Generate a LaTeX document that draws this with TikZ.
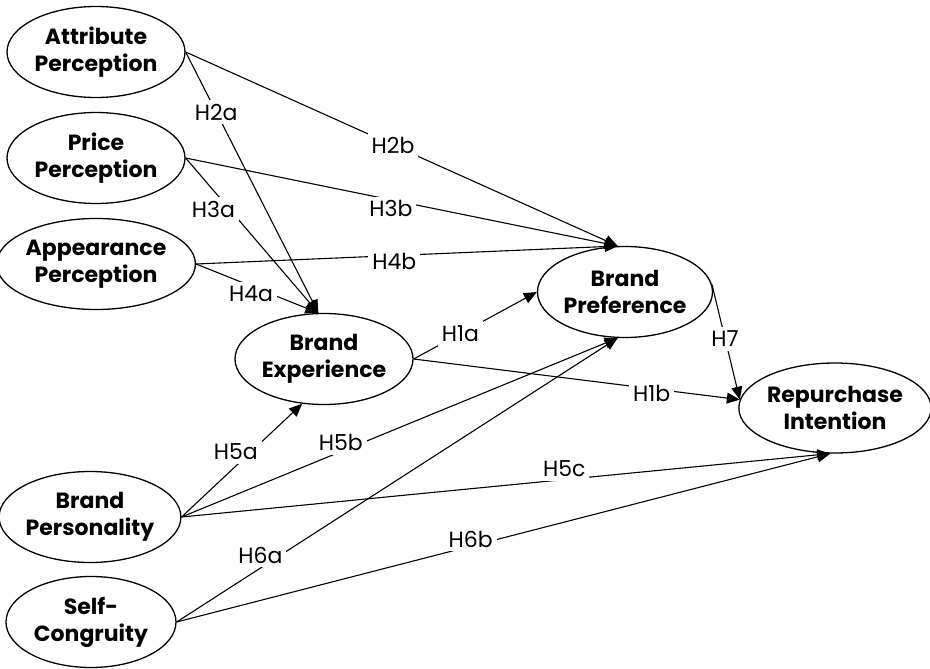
\documentclass[tikz,border=0pt]{standalone}
\usepackage{fontspec}
\setmainfont{Poppins}
\usepackage{tikz}
\usetikzlibrary{arrows.meta}
\usetikzlibrary{shapes.geometric}
\newlength{\semunit}
\setlength{\semunit}{1pt}
\tikzstyle{nodestyle}=[draw, line width=1.3pt, ellipse, inner sep=0pt, align=center, font=\fontsize{22}{27}\selectfont\bfseries]
\tikzstyle{edgestyle}=[draw, line width=1.1pt, -{Triangle[length=13pt,width=11pt]}]
\tikzstyle{construct}=[nodestyle, minimum width=178\semunit, minimum height=91\semunit]
\tikzstyle{hyp}=[fill=white, inner xsep=4pt, inner ysep=4pt, font=\fontsize{22}{24}\selectfont]
\newcommand{\latent}[4][]{\node [construct, #1] (#2) at (#3) {#4};}

\begin{document}
\begin{tikzpicture}[x=1pt, y=-1pt]
\fill [white] (0,0) rectangle (930,669);
\useasboundingbox (0,0) rectangle (930,669);
\latent{AP}{96,52}{Attribute\\Perception}
\latent{PP}{96,158}{Price\\Perception}
\latent{ApP}{96,264}{Appearance\\Perception}
\latent{BE}{324,359}{Brand\\Experience}
\latent[minimum width=175\semunit]{BPr}{625,292}{Brand\\Preference}
\latent[minimum width=174\semunit, minimum height=90\semunit]{RI}{835,408}{Repurchase\\Intention}
\latent[minimum width=170\semunit]{BPe}{90,517}{Brand\\Personality}
\latent[minimum width=170\semunit]{SC}{91,622}{Self-\\Congruity}
% paths to brand experience
\draw [edgestyle] (AP.east) -- (BE.97) node [hyp, pos=0.23] (h2a) {H2a};
\draw [edgestyle] (PP.east) -- (BE.97) node [hyp, pos=0.33, xshift=-16pt] (h3a) {H3a};
\draw [edgestyle] (ApP.east) -- (BE.97) node [hyp, pos=0.45, yshift=-8pt] (h4a) {H4a};
\draw [edgestyle] (BPe.east) -- (BE.244) node [hyp, pos=0.45, yshift=14pt] (h5a) {H5a};
% paths to brand preference
\draw [edgestyle] (AP.east) -- (BPr.99) node [hyp, pos=0.48] (h2b) {H2b};
\draw [edgestyle] (PP.east) -- (BPr.99) node [hyp, pos=0.475, yshift=-9pt] (h3b) {H3b};
\draw [edgestyle] (ApP.east) -- (BPr.99) node [hyp, pos=0.47, yshift=-6pt] (h4b) {H4b};
\draw [edgestyle] (BE.east) -- (BPr.west) node [hyp, pos=0.38] (h1a) {H1a};
\draw [edgestyle] (BPe.east) -- (BPr.261) node [hyp, pos=0.365, yshift=9pt] (h5b) {H5b};
\draw [edgestyle] (SC.east) -- (BPr.261) node [hyp, pos=0.19, yshift=13pt] (h6a) {H6a};
% paths to repurchase intention
\draw [edgestyle] (BE.east) -- (RI.175) node [hyp, pos=0.73, yshift=-5pt] (h1b) {H1b};
\draw [edgestyle] (BPr.5) -- (RI.175) node [hyp, pos=0.47] (h7) {H7};
\draw [edgestyle] (BPe.east) -- (RI.264) node [hyp, pos=0.59, yshift=11pt] (h5c) {H5c};
\draw [edgestyle] (SC.east) -- (RI.264) node [hyp, pos=0.45, yshift=7pt] (h6b) {H6b};
\end{tikzpicture}
\end{document}
